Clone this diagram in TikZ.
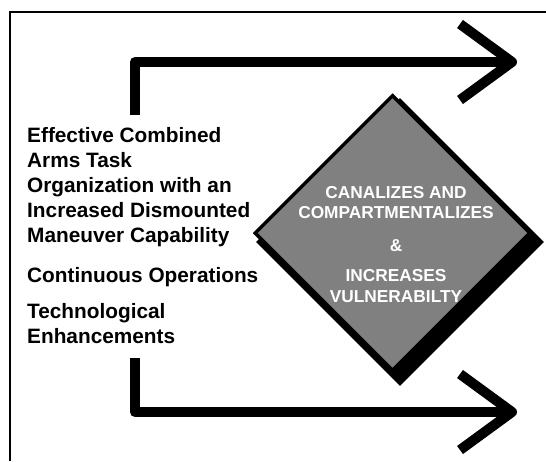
\documentclass[tikz,border=0pt]{standalone}
\usepackage{fontspec}
\setmainfont{Liberation Sans}
\usetikzlibrary{shapes.geometric}
\definecolor{diagray}{RGB}{128,128,128}
\tikzset{
  frameline/.style={line width=2pt, black},
  arrowline/.style={line width=10pt, black, line join=round, line cap=butt},
  lefttext/.style={anchor=base west, inner sep=0pt, align=left, font=\bfseries\fontsize{20.8pt}{25pt}\selectfont},
  diatext/.style={anchor=base, inner sep=0pt, align=center, text=white, font=\bfseries\fontsize{17.3pt}{20.7pt}\selectfont},
  diabox/.style={shape=diamond, draw=black, line width=3.5pt, fill=diagray, inner sep=0pt, minimum width=276pt, minimum height=276pt},
  diashadow/.style={shape=diamond, fill=black, inner sep=0pt, minimum width=288pt, minimum height=288pt}
}
\begin{document}
\begin{tikzpicture}[x=1pt, y=-1pt]
\useasboundingbox (0,0) rectangle (546,461);
% frame
\coordinate (fbl) at (10,461);
\coordinate (ftl) at (10,12);
\coordinate (ftr) at (546,12);
\draw[frameline] (fbl) -- (ftl) -- (ftr);
% top arrow
\coordinate (t1) at (135,115);
\coordinate (t2) at (135,62);
\coordinate (t3) at (512,62);
\coordinate (ta) at (460,24);
\coordinate (tb) at (460,100);
\draw[arrowline] (t1) -- (t2) -- (t3);
\draw[arrowline] (ta) -- (t3) -- (tb);
% bottom arrow
\coordinate (b1) at (135,358);
\coordinate (b2) at (135,412);
\coordinate (b3) at (512,412);
\coordinate (ba) at (460,374);
\coordinate (bb) at (460,450);
\draw[arrowline] (b1) -- (b2) -- (b3);
\draw[arrowline] (ba) -- (b3) -- (bb);
% diamond
\node[diashadow] (shadow) at (400,242) {};
\node[diabox] (dia) at (392.5,233) {};
\node[diatext] (dtext) at (396,302) {CANALIZES AND\\COMPARTMENTALIZES\\[12pt]\&\\[9pt]INCREASES\\VULNERABILTY};
% left texts
\node[lefttext] (p1) at (27,242) {Effective Combined\\Arms Task\\Organization with an\\Increased Dismounted\\Maneuver Capability};
\node[lefttext] (p2) at (27,282) {Continuous Operations};
\node[lefttext] (p3) at (27,343) {Technological\\Enhancements};
\end{tikzpicture}
\end{document}
